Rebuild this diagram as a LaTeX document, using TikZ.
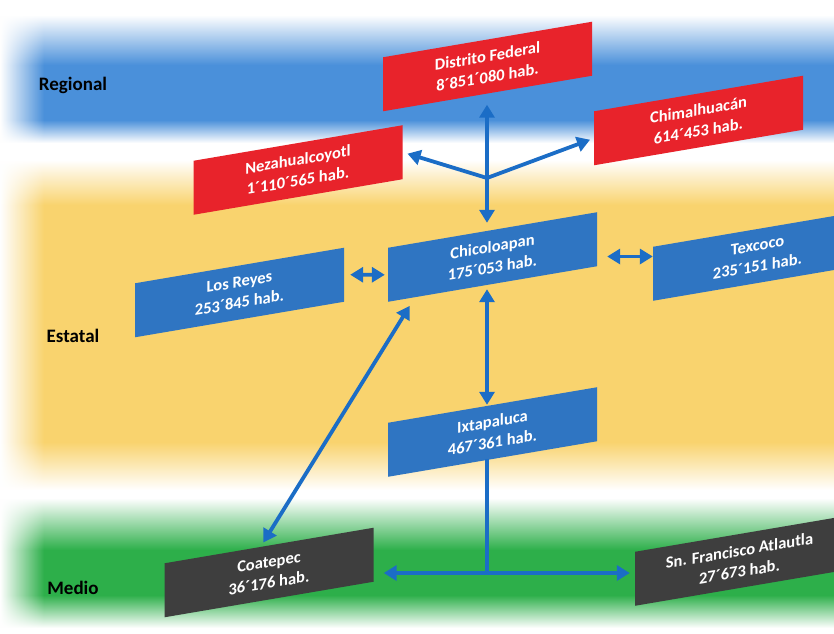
\documentclass[tikz,border=0pt]{standalone}
\usepackage{fontspec}
\setmainfont{Carlito}
\usepackage{tikz}
\usetikzlibrary{arrows.meta, positioning, calc, fadings}
\definecolor{bandblue}{HTML}{4A90DA}
\definecolor{bandyellow}{HTML}{F9D36E}
\definecolor{bandgreen}{HTML}{2DAF4A}
\definecolor{regred}{HTML}{E8232B}
\definecolor{estblue}{HTML}{2F75C2}
\definecolor{medgray}{HTML}{3E3E3E}
\definecolor{linkblue}{HTML}{1B6DC6}
\tikzset{
  muni/.style={rectangle, yslant=0.17, minimum width=209pt, minimum height=54pt,
    inner sep=0pt, align=center, text=white,
    font=\bfseries\fontsize{16.5}{21}\selectfont},
  muni/reg/.style={muni, fill=regred},
  muni/est/.style={muni, fill=estblue},
  muni/med/.style={muni, fill=medgray},
  lvl/.style={font=\bfseries\fontsize{19}{22}\selectfont, text=black, anchor=center},
  ar/.style={-{Triangle[length=13pt,width=15pt]}, draw=linkblue, line width=3.8pt},
  arr/.style={{Triangle[length=13pt,width=15pt]}-{Triangle[length=13pt,width=15pt]},
    draw=linkblue, line width=3.8pt},
  ln/.style={draw=linkblue, line width=3.8pt},
}

\begin{document}
\begin{tikzpicture}[x=1pt, y=-1pt]
  \useasboundingbox (0,0) rectangle (834,633);
  \clip (0,0) rectangle (834,633);
  % bands
  \fill[white] (0,0) rectangle (834,633);
  \shade[top color=white, bottom color=bandblue] (0,15) rectangle (834,65);
  \fill[bandblue] (0,65) rectangle (834,120);
  \shade[top color=bandblue, bottom color=white] (0,120) rectangle (834,143);
  \shade[top color=white, bottom color=bandyellow] (0,160) rectangle (834,205);
  \fill[bandyellow] (0,205) rectangle (834,442);
  \shade[top color=bandyellow, bottom color=white] (0,442) rectangle (834,490);
  \shade[top color=white, bottom color=bandgreen] (0,498) rectangle (834,550);
  \fill[bandgreen] (0,550) rectangle (834,595);
  \shade[top color=bandgreen, bottom color=white] (0,595) rectangle (834,628);
  \fill[white, path fading=east] (0,0) rectangle (44,633);

  % levels
  \node[lvl] (regional) at (73,85) {Regional};
  \node[lvl] (estatal) at (73,336) {Estatal};
  \node[lvl] (medio) at (73,588) {Medio};

  % municipios
  \node[muni/reg] (dist) at (487.5,66.5) {Distrito Federal\\8´851´080 hab.};
  \node[muni/reg] (neza) at (298,170) {Nezahualcoyotl\\1´110´565 hab.};
  \node[muni/reg] (chim) at (698.5,120.5) {Chimalhuacán\\614´453 hab.};
  \node[muni/est] (reyes) at (239.5,292.5) {Los Reyes\\253´845 hab.};
  \node[muni/est] (chico) at (492.5,257) {Chicoloapan\\175´053 hab.};
  \node[muni/est] (texc) at (757.5,256) {Texcoco\\235´151 hab.};
  \node[muni/est] (ixta) at (492.5,432) {Ixtapaluca\\467´361 hab.};
  \node[muni/med] (coat) at (269,572.5) {Coatepec\\36´176 hab.};
  \node[muni/med] (sanf) at (739.5,561) {Sn. Francisco Atlautla\\27´673 hab.};

  % links
  \coordinate (hubA) at (487,178);
  \coordinate (hubB) at (487,573);
  \draw[ar, shorten >=11pt] (hubA) -- (dist.south -| hubA);
  \draw[ar, shorten >=7pt] (hubA) -- (chico.north -| hubA);
  \draw[ar, shorten >=5pt] (hubA) -- (neza.east);
  \draw[ar, shorten >=4pt] (hubA) -- (chim.west);
  \draw[arr, shorten <=6pt, shorten >=3pt] (reyes.east) -- (chico.west);
  \path ($(chico.east)!.5!(texc.west)$) coordinate (ct);
  \draw[arr, shorten <=10pt] (ct -| chico.east) -- (ct -| texc.west);
  \draw[arr, shorten <=5pt] (chico.south -| hubA) -- (ixta.north -| hubA);
  \draw[arr, shorten <=10pt, shorten >=5pt]
    ($(chico.south west)!.13!(chico.south east)$) -- ($(coat.north west)!.46!(coat.north east)$);
  \draw[ln] (ixta.south -| hubB) -- (hubB);
  \draw[ar, shorten >=10pt] (hubB) -- (hubB -| coat.east);
  \draw[ar, shorten >=5pt] (hubB) -- (hubB -| sanf.west);
\end{tikzpicture}
\end{document}
